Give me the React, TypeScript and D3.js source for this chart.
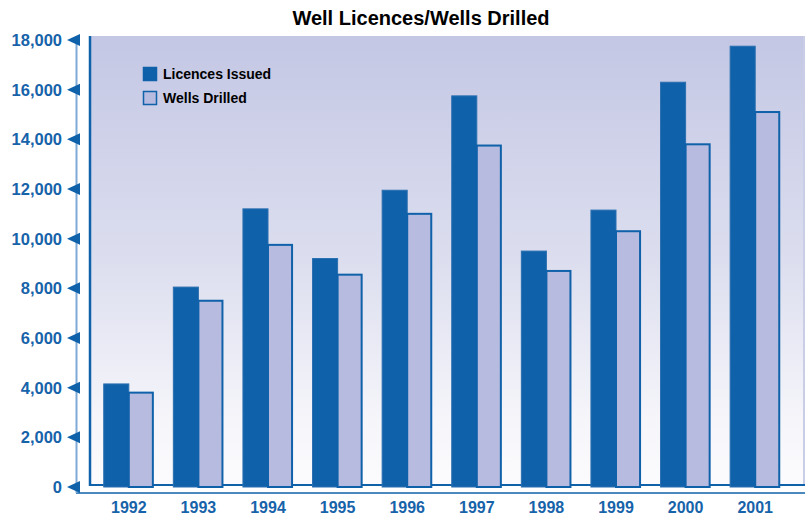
import React from 'react';
import {scaleBand, scaleLinear, range} from 'd3';

const years = ['1992', '1993', '1994', '1995', '1996', '1997', '1998', '1999', '2000', '2001'];
const licencesIssued = [4150, 8050, 11200, 9200, 11950, 15750, 9500, 11150, 16300, 17750];
const wellsDrilled = [3800, 7500, 9750, 8550, 11000, 13750, 8700, 10300, 13800, 15100];
const yTicks = [0, 2000, 4000, 6000, 8000, 10000, 12000, 14000, 16000, 18000];
const legendLabels = ['Licences Issued', 'Wells Drilled'];

const W = 805;
const H = 516;
const panel = {left: 90, top: 36, right: 805, floor: 485};
const BLUE = '#0f61a9';
const LIGHT = '#b6bbdf';
const TEXT_BLUE = '#1763aa';

export default function App() {
    // y scale: 0 at floor, 18000 near the panel top
    const y = scaleLinear().domain([0, 18000]).range([487, 40]);
    const x = scaleBand().domain(years).range([94, 790]).paddingInner(0.28).paddingOuter(0.14);
    const barW = x.bandwidth() / 2;
    const fmt = (v: number) => v.toLocaleString('en-US');

    return (
        <svg width={W} height={H} style={{position: 'absolute', left: 0, top: 0}}
             fontFamily="'Liberation Sans', Arial, sans-serif">
            <defs>
                <linearGradient id="bg" x1="0" y1="0" x2="0" y2="1">
                    <stop offset="0" stopColor="#c4c7e4" />
                    <stop offset="0.5" stopColor="#dcdeef" />
                    <stop offset="0.85" stopColor="#f5f5fa" />
                    <stop offset="1" stopColor="#fcfcfe" />
                </linearGradient>
            </defs>
            <rect width={W} height={H} fill="#ffffff" />

            {/* title */}
            <text x={421} y={25} textAnchor="middle" fontSize={20} fontWeight="bold" fill="#000">
                Well Licences/Wells Drilled
            </text>

            {/* panel */}
            <rect x={panel.left} y={panel.top} width={panel.right - panel.left} height={panel.floor - panel.top}
                  fill="url(#bg)" />
            <line x1={panel.right - 1} x2={panel.right - 1} y1={panel.top} y2={panel.floor} stroke="#c9cde6" strokeWidth={2} />
            <line x1={panel.left} x2={panel.left} y1={panel.top} y2={panel.floor + 1} stroke={BLUE} strokeWidth={2.5} />
            <line x1={panel.left} x2={panel.right} y1={panel.floor} y2={panel.floor} stroke={BLUE} strokeWidth={2} />
            <line x1={76} x2={panel.right} y1={493} y2={493} stroke={BLUE} strokeWidth={1.5} />

            {/* y axis */}
            <line x1={76.5} x2={76.5} y1={36} y2={493} stroke="#7fa9d6" strokeWidth={2} />
            {yTicks.map(t => (
                <g key={t} transform={`translate(0,${y(t)})`}>
                    <path d="M67,0 L80,-6 L80,6 Z" fill={BLUE} />
                    <text x={62} y={0} dy="0.36em" textAnchor="end" fontSize={16.5} fontWeight="bold" fill={TEXT_BLUE}>
                        {fmt(t)}
                    </text>
                </g>
            ))}

            {/* bars */}
            {years.map((yr, i) => {
                const x0 = x(yr) as number;
                return (
                    <g key={yr}>
                        <rect x={x0} y={y(licencesIssued[i])} width={barW} height={y(0) - y(licencesIssued[i])}
                              fill={BLUE} stroke="#2a6fb0" strokeWidth={1} />
                        <rect x={x0 + barW} y={y(wellsDrilled[i])} width={barW - 1} height={y(0) - y(wellsDrilled[i])}
                              fill={LIGHT} stroke={BLUE} strokeWidth={2} />
                        <text x={x0 + barW} y={513} textAnchor="middle" fontSize={16} fontWeight="bold" fill={TEXT_BLUE}>
                            {yr}
                        </text>
                    </g>
                );
            })}

            {/* legend */}
            {range(2).map(i => (
                <g key={i} transform={`translate(143,${67 + i * 24})`}>
                    <rect x={0.5} y={0.5} width={13} height={13} fill={i === 0 ? BLUE : LIGHT}
                          stroke={BLUE} strokeWidth={1.5} />
                    <text x={20} y={7} dy="0.36em" fontSize={14} fontWeight="bold" fill="#000">
                        {legendLabels[i]}
                    </text>
                </g>
            ))}
        </svg>
    );
}
